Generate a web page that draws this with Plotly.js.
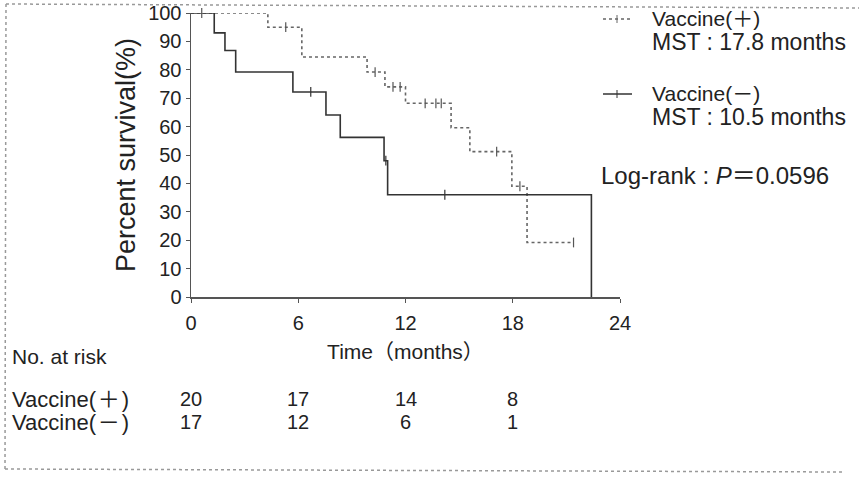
<!DOCTYPE html>
<html>
<head>
<meta charset="utf-8">
<script src="https://cdn.plot.ly/plotly-3.0.1.min.js"></script>
<style>html,body{margin:0;padding:0;background:#fff;}#chart{width:859px;height:481px;}</style>
</head>
<body>
<div id="chart"></div>
<script>
// ---- data ----
const plusTimes  = [0, 4.3, 6.2, 9.85, 10.85, 12.0, 14.55, 15.6, 17.95, 18.8, 21.4];
const plusSurv   = [100, 95.0, 84.5, 79.2, 74.0, 68.2, 59.6, 51.2, 39.0, 19.2, 19.2];
const minusTimes = [0, 1.3, 1.9, 2.5, 5.7, 7.55, 8.35, 10.8, 11.0, 22.4, 22.4];
const minusSurv  = [100, 93.0, 86.8, 79.2, 72.2, 64.1, 56.2, 48.0, 36.0, 36.0, 0];
const plusCensT  = [0.6, 5.3, 10.3, 11.3, 11.7, 13.1, 13.7, 14.0, 17.1, 18.4, 21.4];
const plusCensS  = [100, 95.0, 79.2, 74.0, 74.0, 68.2, 68.2, 68.2, 51.2, 39.0, 19.2];
const minusCensT = [6.7, 10.9, 14.2];
const minusCensS = [72.2, 48.0, 36.0];
const xTicks     = [0, 6, 12, 18, 24];
const riskTimes  = [0, 6, 12, 18];
const riskPlus   = [20, 17, 14, 8];
const riskMinus  = [17, 12, 6, 1];
const legendNames = ['Vaccine(＋)', 'Vaccine(－)'];
const mstLabels   = ['MST : 17.8 months', 'MST : 10.5 months'];
const riskLabels  = ['Vaccine(\u200A＋\u200A)', 'Vaccine(\u200A－\u200A)'];

// ---- layout geometry (pixels) ----
const W = 859, H = 481, L = 191, R = 620, T = 13, B = 297;
const FONT = 'Liberation Sans, Arial, Noto Sans CJK JP, sans-serif';
const px = x => (x - L) / (R - L);
const py = y => (B - y) / (B - T);
const INK = '#222';

const traces = [
  {x: plusTimes, y: plusSurv, mode: 'lines', line: {shape: 'hv', color: '#666', width: 1.6, dash: 'dot'}, cliponaxis: false, hoverinfo: 'skip'},
  {x: minusTimes, y: minusSurv, mode: 'lines', line: {shape: 'hv', color: '#333', width: 1.6}, cliponaxis: false, hoverinfo: 'skip'},
  {x: plusCensT, y: plusCensS, mode: 'markers', marker: {symbol: 'line-ns-open', size: 7, color: '#555', line: {width: 1.2, color: '#555'}}, cliponaxis: false},
  {x: minusCensT, y: minusCensS, mode: 'markers', marker: {symbol: 'line-ns-open', size: 7, color: '#333', line: {width: 1.2, color: '#333'}}, cliponaxis: false}
];

const ann = [];
const txt = (text, x, y, size, anchor) => ann.push({text, x: px(x), y: py(y), xref: 'paper', yref: 'paper', xanchor: anchor || 'left', yanchor: 'middle', showarrow: false, font: {family: FONT, size: size || 20, color: INK}});
txt(legendNames[0], 650, 19, 21);
txt(mstLabels[0], 650, 42, 23);
txt(legendNames[1], 650, 94, 21);
txt(mstLabels[1], 650, 117, 23);
txt('Log-rank : <i>P</i>＝0.0596', 599, 175, 24);
txt('No. at risk', 10, 356, 21);
txt(riskLabels[0], 10, 399, 22);
txt(riskLabels[1], 10, 422, 22);
riskTimes.forEach((t, i) => {
  ann.push({text: String(riskPlus[i]), x: t, y: py(399), xref: 'x', yref: 'paper', xanchor: 'center', yanchor: 'middle', showarrow: false, font: {family: FONT, size: 20, color: INK}});
  ann.push({text: String(riskMinus[i]), x: t, y: py(422), xref: 'x', yref: 'paper', xanchor: 'center', yanchor: 'middle', showarrow: false, font: {family: FONT, size: 20, color: INK}});
});

const seg = (x0, y0, x1, y1, color, dash, width) => ({type: 'line', xref: 'paper', yref: 'paper', x0: px(x0), y0: py(y0), x1: px(x1), y1: py(y1), line: {color, dash: dash || 'solid', width: width || 1.5}});
const shapes = [
  seg(6, 4, 859, 8, '#999', 'dot', 1.5),
  seg(6, 4, 5, 470, '#999', 'dot', 1.5),
  seg(5, 469, 842, 472, '#999', 'dot', 1.5),
  seg(603, 19, 632, 19, '#666', 'dot', 1.5),
  seg(617, 15, 617, 23, '#666', 'solid', 1),
  seg(603, 94, 632, 94, '#333', 'solid', 1.5),
  seg(617, 90, 617, 98, '#333', 'solid', 1)
];

const layout = {
  width: W, height: H,
  margin: {l: L, r: W - R, t: T, b: H - B, pad: 0},
  paper_bgcolor: '#fff', plot_bgcolor: '#fff',
  showlegend: false,
  font: {family: FONT, color: INK},
  xaxis: {range: [0, 24], tickvals: xTicks, showline: true, linecolor: '#555', linewidth: 1.5,
    ticks: 'outside', ticklen: 4, tickcolor: '#555', showgrid: false, zeroline: false, ticklabelstandoff: 3,
    tickfont: {size: 20, family: FONT, color: INK}, title: {text: 'Time（months）', font: {size: 21, family: FONT, color: INK}, standoff: 12}},
  yaxis: {range: [0, 100], dtick: 10, showline: true, linecolor: '#555', linewidth: 1.5,
    ticks: 'outside', ticklen: 4, tickcolor: '#555', showgrid: false, zeroline: false,
    tickfont: {size: 20, family: FONT, color: INK}, title: {text: 'Percent survival(%)', font: {size: 27, family: FONT, color: INK}, standoff: 4}},
  annotations: ann,
  shapes: shapes
};

Plotly.newPlot('chart', traces, layout, {staticPlot: true, displayModeBar: false});
</script>
</body>
</html>
